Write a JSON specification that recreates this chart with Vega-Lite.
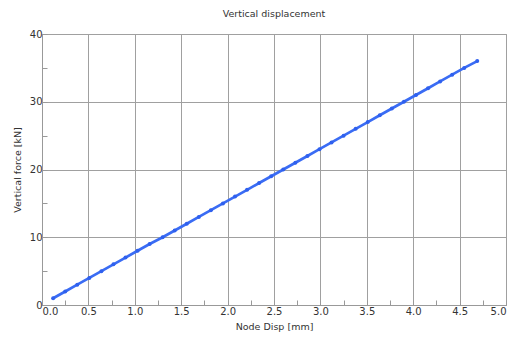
{
  "$schema": "https://vega.github.io/schema/vega-lite/v6.json",
  "width": 464,
  "height": 271,
  "autosize": {"type": "none"},
  "padding": {"left": 42, "top": 34, "right": 21, "bottom": 44},
  "background": "white",
  "title": {"text": "Vertical displacement", "fontSize": 9.5, "font": "DejaVu Sans", "fontWeight": "normal", "color": "#333", "offset": 11, "anchor": "middle"},
  "config": {"view": {"stroke": "#999", "strokeWidth": 1}},
  "data": {"values": [
    {"disp": 0.12, "force": 1}, {"disp": 0.25, "force": 2}, {"disp": 0.38, "force": 3},
    {"disp": 0.51, "force": 4}, {"disp": 0.64, "force": 5}, {"disp": 0.77, "force": 6},
    {"disp": 0.90, "force": 7}, {"disp": 1.03, "force": 8}, {"disp": 1.16, "force": 9},
    {"disp": 1.30, "force": 10}, {"disp": 1.43, "force": 11}, {"disp": 1.56, "force": 12},
    {"disp": 1.69, "force": 13}, {"disp": 1.82, "force": 14}, {"disp": 1.95, "force": 15},
    {"disp": 2.08, "force": 16}, {"disp": 2.21, "force": 17}, {"disp": 2.34, "force": 18},
    {"disp": 2.47, "force": 19}, {"disp": 2.60, "force": 20}, {"disp": 2.73, "force": 21},
    {"disp": 2.86, "force": 22}, {"disp": 2.99, "force": 23}, {"disp": 3.12, "force": 24},
    {"disp": 3.25, "force": 25}, {"disp": 3.38, "force": 26}, {"disp": 3.51, "force": 27},
    {"disp": 3.64, "force": 28}, {"disp": 3.77, "force": 29}, {"disp": 3.90, "force": 30},
    {"disp": 4.03, "force": 31}, {"disp": 4.16, "force": 32}, {"disp": 4.29, "force": 33},
    {"disp": 4.42, "force": 34}, {"disp": 4.55, "force": 35}, {"disp": 4.69, "force": 36}
  ]},
  "encoding": {
    "x": {"field": "disp", "type": "quantitative", "scale": {"domain": [0, 5], "nice": false},
      "axis": {"title": "Node Disp  [mm]", "titleFont": "DejaVu Sans", "titleFontSize": 9.5, "titleFontWeight": "normal", "titleColor": "#333", "titlePadding": 5,
        "values": [0, 0.25, 0.5, 0.75, 1, 1.25, 1.5, 1.75, 2, 2.25, 2.5, 2.75, 3, 3.25, 3.5, 3.75, 4, 4.25, 4.5, 4.75, 5],
        "labelExpr": "datum.value % 0.5 == 0 ? format(datum.value, '.1f') : ''",
        "labelFont": "DejaVu Sans", "labelFontSize": 10, "labelColor": "#333", "labelPadding": 6,
        "tickSize": -5, "tickColor": "#999", "domainColor": "#999",
        "gridColor": "#a0a0a0", "gridOpacity": {"condition": {"test": "datum.value % 0.5 == 0", "value": 1}, "value": 0}}},
    "y": {"field": "force", "type": "quantitative", "scale": {"domain": [0, 40], "nice": false},
      "axis": {"title": "Vertical force  [kN]", "titleFont": "DejaVu Sans", "titleFontSize": 9.5, "titleFontWeight": "normal", "titleColor": "#333", "titlePadding": 7,
        "values": [0, 5, 10, 15, 20, 25, 30, 35, 40],
        "labelExpr": "datum.value % 10 == 0 ? format(datum.value, 'd') : ''",
        "labelFont": "DejaVu Sans", "labelFontSize": 10, "labelColor": "#333", "labelPadding": 5,
        "tickSize": -5, "tickColor": "#999", "domainColor": "#999",
        "gridColor": "#a0a0a0", "gridOpacity": {"condition": {"test": "datum.value % 10 == 0", "value": 1}, "value": 0}}}
  },
  "layer": [
    {"mark": {"type": "line", "color": "#3a6cf4", "strokeWidth": 2.7}},
    {"mark": {"type": "point", "filled": true, "color": "#2f60ee", "size": 16, "opacity": 1}}
  ]
}
